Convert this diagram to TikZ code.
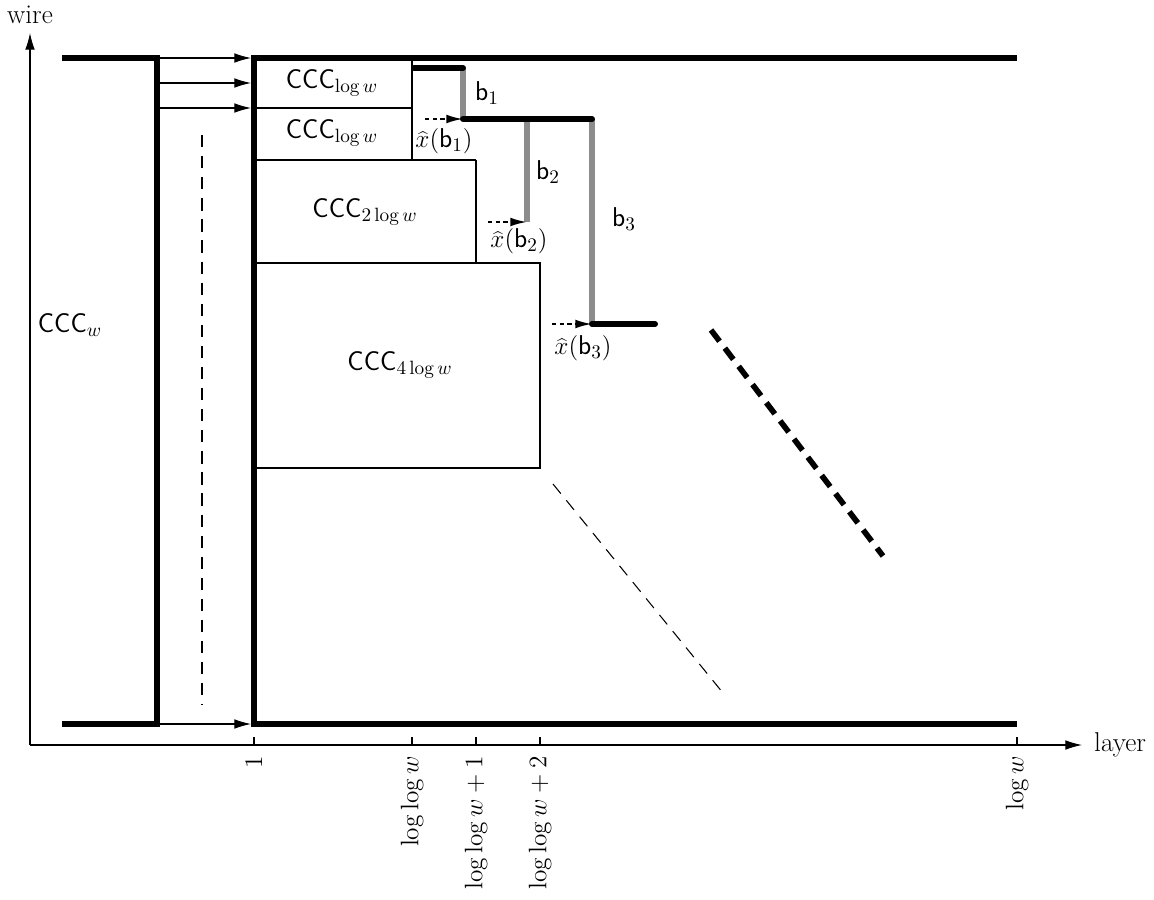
\documentclass[tikz,border=0pt]{standalone}
\usetikzlibrary{arrows.meta}
\begin{document}
\begin{tikzpicture}[x=0.02cm,y=-0.02cm,
  thickw/.style={line width=3.4pt},
  grayw/.style={line width=3pt,draw=black!45},
  thinw/.style={line width=0.6pt},
  arr/.style={thinw,-{Latex[length=9.5pt,width=5.5pt]}},
  dotarr/.style={line width=1.2pt,dash pattern=on 2.5pt off 1.8pt,-{Latex[length=9.5pt,width=5pt]}},
  lbl/.style={font=\fontsize{15.5}{18}\selectfont},
  tick/.style={font=\fontsize{15.5}{18}\selectfont,rotate=90,anchor=east,inner sep=1pt}]
\useasboundingbox (0,0) rectangle (1154,900);
% axes
\coordinate (O) at (30,745);
\coordinate (Ytip) at (30,33);
\coordinate (Xtip) at (1082,745);
\draw[arr] (O) -- (Ytip);
\draw[arr] (O) -- (Xtip);
\node[lbl] (wire) at (30,15) {wire};
\node[lbl,anchor=west] (layer) at (1088,745) {layer};
% ticks
\foreach \x/\n/\t in {254/t1/$1$,412/t2/$\log\log w$,476/t3/$\log\log w+1$,540/t4/$\log\log w+2$,1017/t5/$\log w$}{
  \draw[thinw] (\x,737) -- (\x,745);
  \node[tick] (\n) at (\x,754) {\t};
}
% left block
\coordinate (LT) at (62,58);
\coordinate (LTc) at (157,58);
\coordinate (LBc) at (157,724);
\coordinate (LB) at (62,724);
\draw[thickw] (LT) -- (LTc) -- (LBc) -- (LB);
% right frame
\coordinate (RT) at (1017,58);
\coordinate (RTc) at (254,58);
\coordinate (RBc) at (254,724);
\coordinate (RB) at (1017,724);
\draw[thickw] (RT) -- (RTc) -- (RBc) -- (RB);
\node[lbl] (cccw) at (70,325) {$\textsf{CCC}_w$};
% arrows between blocks
\foreach \y in {58,83,108,724}{
  \draw[arr] (159,\y) -- (251,\y);
}
\draw[thinw,dash pattern=on 7pt off 5pt] (202,135) -- (202,705);
% boxes
\draw[thinw] (254,108) -- (412,108);
\draw[thinw] (412,58) -- (412,160) -- (254,160);
\draw[thinw] (476,160) -- (476,263) -- (254,263);
\draw[thinw] (476,160) -- (412,160);
\draw[thinw] (476,263) -- (540,263) -- (540,468) -- (254,468);
\node[lbl] (c1) at (332,83) {$\textsf{CCC}_{\log w}$};
\node[lbl] (c2) at (332,133) {$\textsf{CCC}_{\log w}$};
\node[lbl] (c3) at (365,212) {$\textsf{CCC}_{2\log w}$};
\node[lbl] (c4) at (400,365) {$\textsf{CCC}_{4\log w}$};
% staircase
\coordinate (s1a) at (414,68);
\coordinate (s1b) at (463,68);
\coordinate (s2a) at (463,119);
\coordinate (s2m) at (527,119);
\coordinate (s2b) at (592,119);
\coordinate (b2e) at (527,222);
\coordinate (s3a) at (592,324);
\coordinate (s3b) at (655,324);
\draw[grayw] (s1b) -- (s2a);
\draw[grayw] (s2m) -- (b2e);
\draw[grayw] (s2b) -- (s3a);
\draw[thickw,line cap=round] (s1a) -- (s1b);
\draw[thickw,line cap=round] (s2a) -- (s2b);
\draw[thickw,line cap=round] (s3a) -- (s3b);
\node[lbl] (b1) at (487,93) {$\textsf{b}_1$};
\node[lbl] (b2) at (548,172) {$\textsf{b}_2$};
\node[lbl] (b3) at (624,219) {$\textsf{b}_3$};
\coordinate (d1) at (425,119);
\coordinate (d2) at (488,222);
\coordinate (d3) at (552,324);
\draw[dotarr] (d1) -- (s2a);
\draw[dotarr] (d2) -- (b2e);
\draw[dotarr] (d3) -- (s3a);
\node[lbl] (x1) at (444,141) {$\widehat{x}(\textsf{b}_1)$};
\node[lbl] (x2) at (519,241) {$\widehat{x}(\textsf{b}_2)$};
\node[lbl] (x3) at (583,348) {$\widehat{x}(\textsf{b}_3)$};
% diagonals
\coordinate (g1) at (553,484);
\coordinate (g2) at (723,693);
\draw[thinw,dash pattern=on 7pt off 5pt] (g1) -- (g2);
\coordinate (h1) at (711,330);
\coordinate (h2) at (883,556);
\draw[line width=3.2pt,dash pattern=on 8pt off 5pt] (h1) -- (h2);
\end{tikzpicture}
\end{document}
